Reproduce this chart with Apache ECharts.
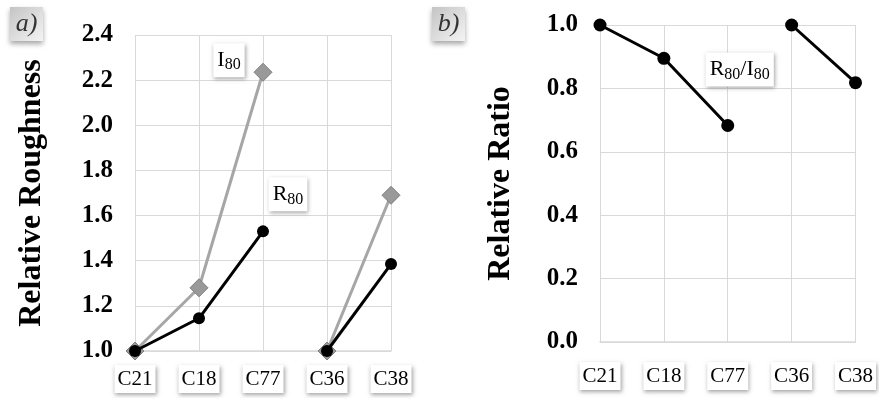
<!DOCTYPE html>
<html><head><meta charset="utf-8">
<script src="https://cdn.jsdelivr.net/npm/echarts@6/dist/echarts.min.js"></script>
<style>html,body{margin:0;padding:0;background:#fff}#c{width:879px;height:398px}</style>
</head><body><div id="c"></div>
<script>
const categories = ['C21', 'C18', 'C77', 'C36', 'C38'];
const i80 = [1.0, 1.28, 2.235, 1.0, 1.69];
const r80 = [1.0, 1.145, 1.53, 1.0, 1.385];
const ratio = [1.0, 0.895, 0.683, 1.0, 0.818];
const groups = [[0, 1, 2], [3, 4]];
const yRangeA = [1.0, 2.4, 0.2];
const yRangeB = [0.0, 1.0, 0.2];
const nameA = 'Relative Roughness';
const nameB = 'Relative Ratio';

const FONT = '"Liberation Serif", "Times New Roman", serif';
const GRID = '#d9d9d9';

function seg(arr, idxs) { return arr.map((v, i) => idxs.includes(i) ? v : null); }

const boxStyle = {
  backgroundColor: '#fff', shadowColor: 'rgba(0,0,0,0.35)', shadowBlur: 4,
  shadowOffsetX: 1, shadowOffsetY: 2
};
const rich = {
  m: { fontFamily: FONT, fontSize: 22, color: '#000', lineHeight: 26 },
  s: { fontFamily: FONT, fontSize: 16, color: '#000', lineHeight: 10, verticalAlign: 'bottom' }
};
function tag(fmt, offset) {
  return Object.assign({ show: true, position: 'inside', offset: offset, formatter: fmt,
    rich: rich, padding: [4, 4, 4, 4] }, boxStyle);
}

function xAxis(gridIndex, margin) {
  return {
    type: 'category', gridIndex, data: categories, boundaryGap: false,
    axisLine: { show: true, lineStyle: { color: GRID, width: 1.5 } },
    axisTick: { show: false },
    splitLine: { show: true, lineStyle: { color: GRID, width: 1 } },
    axisLabel: Object.assign({ fontFamily: FONT, fontSize: 21, color: '#000', margin: margin,
      padding: [4, 3, 3, 3], interval: 0 }, boxStyle)
  };
}
function yAxis(gridIndex, r, name, gap) {
  return {
    type: 'value', gridIndex, min: r[0], max: r[1], interval: r[2],
    name: name, nameLocation: 'middle', nameGap: gap, nameRotate: 90,
    nameTextStyle: { fontFamily: FONT, fontSize: 32, fontWeight: 'bold', color: '#000' },
    axisLine: { show: false }, axisTick: { show: false },
    splitLine: { show: true, lineStyle: { color: GRID, width: 1 } },
    axisLabel: { fontFamily: FONT, fontSize: 25, fontWeight: 'bold', color: '#000', margin: 22,
      formatter: v => v.toFixed(1) }
  };
}

const greyLine = { color: '#a6a6a6', width: 3 };
const greySym = { color: '#999999', borderColor: '#7f7f7f', borderWidth: 1 };
const blackLine = { color: '#000', width: 3 };
const blackSym = { color: '#000' };

const series = [];
groups.forEach((g, gi) => {
  const d = seg(i80, g).map((v, i) => (gi === 0 && i === 2) ? { value: v, label: tag('{m|I}{s|80}', [-34, -12]) } : v);
  series.push({ type: 'line', xAxisIndex: 0, yAxisIndex: 0, data: d, symbol: 'diamond', symbolSize: 18,
    lineStyle: greyLine, itemStyle: greySym, clip: false, z: 2, connectNulls: false });
});
groups.forEach((g, gi) => {
  const d = seg(r80, g).map((v, i) => (gi === 0 && i === 2) ? { value: v, label: tag('{m|R}{s|80}', [25, -37]) } : v);
  series.push({ type: 'line', xAxisIndex: 0, yAxisIndex: 0, data: d, symbol: 'circle', symbolSize: 12,
    lineStyle: blackLine, itemStyle: blackSym, clip: false, z: 3, connectNulls: false });
});
groups.forEach((g, gi) => {
  const d = seg(ratio, g).map((v, i) => (gi === 0 && i === 2) ? { value: v, label: tag('{m|R}{s|80}{m|/I}{s|80}', [12, -56]) } : v);
  series.push({ type: 'line', xAxisIndex: 1, yAxisIndex: 1, data: d, symbol: 'circle', symbolSize: 13,
    lineStyle: blackLine, itemStyle: blackSym, clip: false, z: 3, connectNulls: false });
});

function panelTag(x, y, txt) {
  return {
    type: 'group', left: x, top: y, children: [
      { type: 'rect', shape: { x: 0, y: 0, width: 33, height: 34 },
        style: { fill: new echarts.graphic.LinearGradient(0, 0, 1, 1, [
          { offset: 0, color: '#c4c4c4' }, { offset: 1, color: '#f4f4f4' }]),
          shadowColor: 'rgba(0,0,0,0.35)', shadowBlur: 5, shadowOffsetY: 3 } },
      { type: 'text', x: 16.5, y: 17, style: { text: txt, font: 'italic 26px ' + FONT, fill: '#333',
        align: 'center', verticalAlign: 'middle' } }
    ]
  };
}

const chart = echarts.init(document.getElementById('c'), null, { renderer: 'canvas' });
chart.setOption({
  backgroundColor: '#fff',
  animation: false,
  grid: [
    { left: 135, right: 488, top: 35, bottom: 47 },
    { left: 600, right: 15, top: 25, bottom: 56 }
  ],
  xAxis: [xAxis(0, 14), xAxis(1, 20)],
  yAxis: [yAxis(0, yRangeA, nameA, 87), yAxis(1, yRangeB, nameB, 83)],
  series: series,
  graphic: [panelTag(10, 7, 'a)'), panelTag(432, 7, 'b)')]
});
</script></body></html>
